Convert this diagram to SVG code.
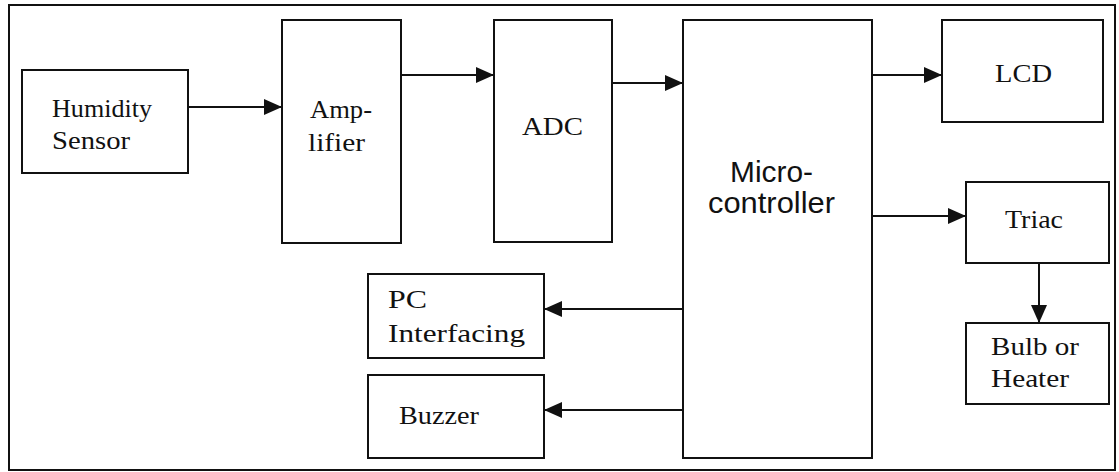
<svg xmlns="http://www.w3.org/2000/svg" width="1119" height="472" viewBox="0 0 1119 472">
  <style>
    .box { fill: #fff; stroke: #111; stroke-width: 2; }
    .frame { fill: none; stroke: #111; stroke-width: 2; }
    .wire { fill: none; stroke: #111; stroke-width: 2; }
    .serif { font-family: "Liberation Serif", "Times New Roman", serif; font-size: 26px; fill: #111; }
    .sans { font-family: "Liberation Sans", Arial, sans-serif; font-size: 29px; fill: #111; }
  </style>
  <defs>
    <marker id="arrow" viewBox="0 0 18 16" refX="18" refY="8" markerWidth="18" markerHeight="16" markerUnits="userSpaceOnUse" orient="auto">
      <path d="M0,0 L18,8 L0,16 Z" fill="#111"/>
    </marker>
  </defs>

  <rect width="1119" height="472" fill="#fff"/>
  <rect class="frame" x="9" y="5" width="1106" height="465"/>

  <g id="humidity-sensor">
    <rect class="box" x="22" y="70" width="166" height="103"/>
    <text class="serif" x="52" y="117" textLength="100" lengthAdjust="spacingAndGlyphs">Humidity</text>
    <text class="serif" x="52" y="149" textLength="78" lengthAdjust="spacingAndGlyphs">Sensor</text>
  </g>

  <g id="amplifier">
    <rect class="box" x="282" y="20" width="119" height="223"/>
    <text class="serif" x="310" y="118" textLength="62" lengthAdjust="spacingAndGlyphs">Amp-</text>
    <text class="serif" x="308" y="151" textLength="57" lengthAdjust="spacingAndGlyphs">lifier</text>
  </g>

  <g id="adc">
    <rect class="box" x="494" y="20" width="118" height="222"/>
    <text class="serif" x="522" y="135" textLength="61" lengthAdjust="spacingAndGlyphs">ADC</text>
  </g>

  <g id="microcontroller">
    <rect class="box" x="683" y="20" width="189" height="438"/>
    <text class="sans" x="730" y="182" textLength="83" lengthAdjust="spacingAndGlyphs">Micro-</text>
    <text class="sans" x="708" y="213" textLength="127" lengthAdjust="spacingAndGlyphs">controller</text>
  </g>

  <g id="lcd">
    <rect class="box" x="942" y="20" width="161" height="102"/>
    <text class="serif" x="995" y="82" textLength="57" lengthAdjust="spacingAndGlyphs">LCD</text>
  </g>

  <g id="triac">
    <rect class="box" x="966" y="182" width="143" height="81"/>
    <text class="serif" x="1005" y="228" textLength="58" lengthAdjust="spacingAndGlyphs">Triac</text>
  </g>

  <g id="bulb-heater">
    <rect class="box" x="966" y="323" width="143" height="81"/>
    <text class="serif" x="991" y="355" textLength="88" lengthAdjust="spacingAndGlyphs">Bulb or</text>
    <text class="serif" x="991" y="387" textLength="78" lengthAdjust="spacingAndGlyphs">Heater</text>
  </g>

  <g id="pc-interfacing">
    <rect class="box" x="368" y="274" width="176" height="84"/>
    <text class="serif" x="388" y="308" textLength="39" lengthAdjust="spacingAndGlyphs">PC</text>
    <text class="serif" x="388" y="342" textLength="137" lengthAdjust="spacingAndGlyphs">Interfacing</text>
  </g>

  <g id="buzzer">
    <rect class="box" x="368" y="375" width="176" height="83"/>
    <text class="serif" x="399" y="424" textLength="80" lengthAdjust="spacingAndGlyphs">Buzzer</text>
  </g>

  <g id="connectors">
    <line class="wire" x1="188" y1="107" x2="282" y2="107" marker-end="url(#arrow)"/>
    <line class="wire" x1="401" y1="75" x2="494" y2="75" marker-end="url(#arrow)"/>
    <line class="wire" x1="612" y1="83" x2="683" y2="83" marker-end="url(#arrow)"/>
    <line class="wire" x1="872" y1="75" x2="942" y2="75" marker-end="url(#arrow)"/>
    <line class="wire" x1="872" y1="216" x2="966" y2="216" marker-end="url(#arrow)"/>
    <line class="wire" x1="1039" y1="263" x2="1039" y2="323" marker-end="url(#arrow)"/>
    <line class="wire" x1="683" y1="309" x2="544" y2="309" marker-end="url(#arrow)"/>
    <line class="wire" x1="683" y1="410" x2="544" y2="410" marker-end="url(#arrow)"/>
  </g>
</svg>
